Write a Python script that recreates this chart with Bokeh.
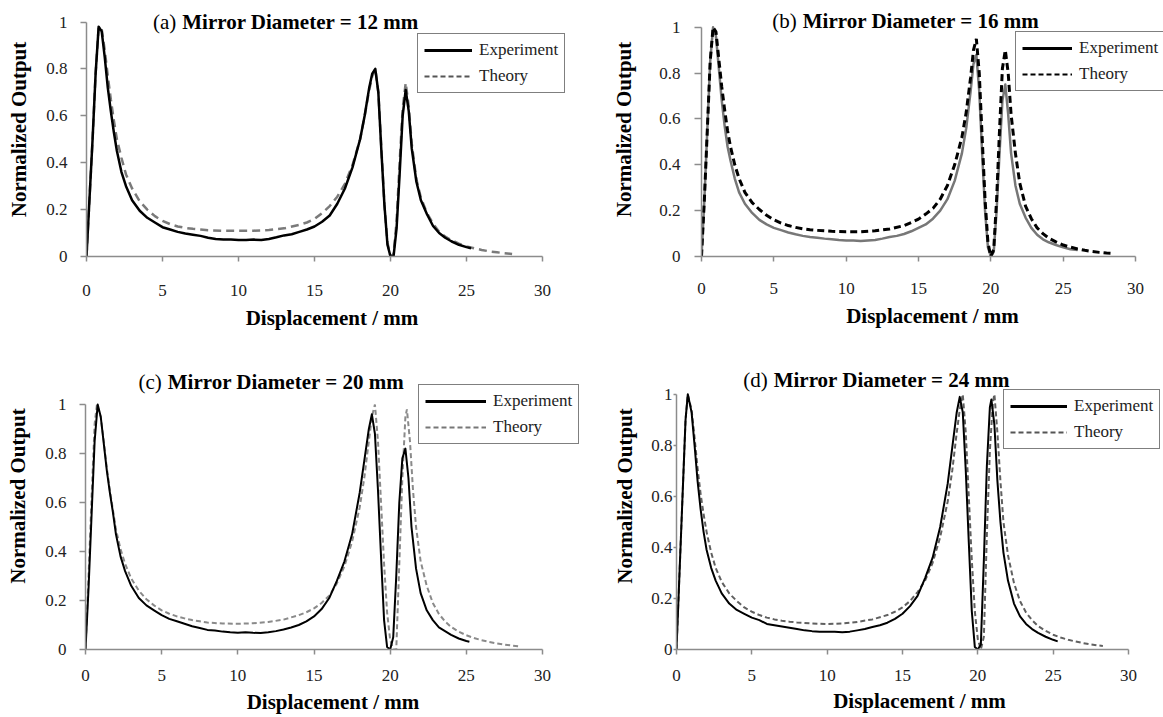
import numpy as np
from bokeh.plotting import figure
from bokeh.layouts import row, column
from bokeh.models import Legend, LegendItem, Label, FixedTicker, Range1d
from bokeh.embed import file_html
from bokeh.resources import INLINE

FONT = "Liberation Serif"

# ---------------- data ----------------
x_ticks = [0, 5, 10, 15, 20, 25, 30]
y_ticks = [0, 0.2, 0.4, 0.6, 0.8, 1]
y_tick_labels = ["0", "0.2", "0.4", "0.6", "0.8", "1"]
x_label = "Displacement / mm"
y_label = "Normalized Output"
series_names = ["Experiment", "Theory"]
panel_tags = ["(a)", "(b)", "(c)", "(d)"]
panel_titles = ["Mirror Diameter = 12 mm", "Mirror Diameter = 16 mm",
                "Mirror Diameter = 20 mm", "Mirror Diameter = 24 mm"]

a_exp_x = [0, 0.2, 0.4, 0.6, 0.8, 1.0, 1.2, 1.4, 1.6, 1.8, 2.0, 2.3, 2.6, 3.0, 3.5, 4.0, 4.5, 5.0, 5.5, 6.0,
           6.5, 7.0, 7.5, 8.0, 8.5, 9.0, 9.5, 10.0, 10.5, 11.0, 11.5, 12.0, 12.5, 13.0, 13.5, 14.0, 14.5, 15.0,
           15.5, 16.0, 16.5, 17.0, 17.5, 18.0, 18.3, 18.6, 18.8, 19.0, 19.2, 19.4, 19.6, 19.8, 20.0, 20.2,
           20.4, 20.6, 20.8, 21.0, 21.2, 21.4, 21.7, 22.0, 22.4, 22.8, 23.2, 23.6, 24.0, 24.5, 25.0, 25.3]
a_exp_y = [0, 0.25, 0.5, 0.78, 0.98, 0.96, 0.85, 0.72, 0.62, 0.53, 0.45, 0.36, 0.30, 0.24, 0.195, 0.165,
           0.145, 0.125, 0.115, 0.105, 0.098, 0.093, 0.088, 0.08, 0.075, 0.073, 0.072, 0.07, 0.07, 0.072, 0.07,
           0.075, 0.082, 0.09, 0.095, 0.105, 0.115, 0.128, 0.148, 0.175, 0.225, 0.29, 0.38, 0.5, 0.6, 0.72,
           0.78, 0.80, 0.70, 0.45, 0.22, 0.05, 0.0, 0.0, 0.12, 0.35, 0.6, 0.71, 0.62, 0.46, 0.32,
           0.24, 0.18, 0.13, 0.10, 0.08, 0.065, 0.05, 0.04, 0.035]
a_th_x = [0, 0.2, 0.4, 0.6, 0.8, 1.0, 1.2, 1.4, 1.6, 1.8, 2.0, 2.3, 2.6, 3.0, 3.5, 4.0, 4.5, 5.0, 5.5, 6.0, 6.5,
          7.0, 7.5, 8.0, 9.0, 10.0, 11.0, 12.0, 13.0, 14.0, 14.5, 15.0, 15.5, 16.0, 16.5, 17.0, 17.5, 18.0,
          18.3, 18.6, 18.8, 19.0, 19.2, 19.4, 19.6, 19.8, 20.0, 20.2, 20.4, 20.6, 20.8, 21.0, 21.2, 21.4,
          21.7, 22.0, 22.4, 22.8, 23.2, 23.6, 24.0, 24.5, 25.0, 25.5, 26.0, 26.5, 27.0, 27.5, 28.0]
a_th_y = [0, 0.25, 0.5, 0.78, 0.98, 0.97, 0.88, 0.77, 0.67, 0.58, 0.50, 0.42, 0.35, 0.29, 0.235, 0.2,
          0.172, 0.152, 0.138, 0.128, 0.122, 0.118, 0.115, 0.112, 0.11, 0.11, 0.11, 0.113, 0.12, 0.135, 0.145,
          0.16, 0.185, 0.215, 0.255, 0.31, 0.39, 0.5, 0.6, 0.71, 0.77, 0.80, 0.70, 0.46, 0.22, 0.06,
          0.0, 0.01, 0.15, 0.4, 0.63, 0.74, 0.64, 0.48, 0.33, 0.25, 0.185, 0.14, 0.105, 0.085, 0.07,
          0.055, 0.043, 0.035, 0.028, 0.022, 0.018, 0.014, 0.011]

b_exp_x = [0, 0.2, 0.4, 0.6, 0.8, 1.0, 1.2, 1.4, 1.6, 1.8, 2.0, 2.3, 2.6, 3.0, 3.5, 4.0, 4.5, 5.0, 5.5, 6.0,
           6.5, 7.0, 7.5, 8.0, 8.5, 9.0, 9.5, 10.0, 10.5, 11.0, 11.5, 12.0, 12.5, 13.0, 13.5, 14.0, 14.5, 15.0,
           15.5, 16.0, 16.5, 17.0, 17.5, 18.0, 18.3, 18.6, 18.8, 19.0, 19.2, 19.4, 19.6, 19.8, 20.0, 20.2,
           20.4, 20.6, 20.8, 21.0, 21.2, 21.4, 21.7, 22.0, 22.4, 22.8, 23.2, 23.6, 24.0, 24.5, 25.0, 25.5, 26.0]
b_exp_y = [0, 0.25, 0.55, 0.85, 1.0, 0.96, 0.82, 0.68, 0.57, 0.48, 0.42, 0.34, 0.28, 0.23, 0.19, 0.16,
           0.14, 0.125, 0.115, 0.105, 0.097, 0.09, 0.085, 0.082, 0.078, 0.075, 0.072, 0.07, 0.07, 0.068, 0.07,
           0.072, 0.078, 0.085, 0.09, 0.098, 0.11, 0.125, 0.14, 0.165, 0.2, 0.25, 0.33, 0.45, 0.56, 0.72,
           0.84, 0.88, 0.72, 0.45, 0.2, 0.04, 0.0, 0.02, 0.2, 0.45, 0.68, 0.75, 0.62, 0.45, 0.31,
           0.23, 0.17, 0.125, 0.095, 0.075, 0.062, 0.05, 0.04, 0.032, 0.028]
b_th_x = [0, 0.2, 0.4, 0.6, 0.8, 1.0, 1.2, 1.4, 1.6, 1.8, 2.0, 2.3, 2.6, 3.0, 3.5, 4.0, 4.5, 5.0, 5.5, 6.0, 6.5,
          7.0, 7.5, 8.0, 9.0, 10.0, 11.0, 12.0, 13.0, 14.0, 14.5, 15.0, 15.5, 16.0, 16.5, 17.0, 17.5, 18.0,
          18.3, 18.6, 18.8, 19.0, 19.2, 19.4, 19.6, 19.8, 20.0, 20.2, 20.4, 20.6, 20.8, 21.0, 21.2, 21.4,
          21.7, 22.0, 22.4, 22.8, 23.2, 23.6, 24.0, 24.5, 25.0, 25.5, 26.0, 26.5, 27.0, 27.5, 28.0, 28.3]
b_th_y = [0, 0.25, 0.55, 0.85, 1.0, 0.98, 0.86, 0.74, 0.64, 0.55, 0.48, 0.40, 0.34, 0.28, 0.235, 0.205,
          0.18, 0.16, 0.146, 0.135, 0.127, 0.121, 0.117, 0.114, 0.11, 0.108, 0.108, 0.112, 0.12, 0.135, 0.148,
          0.163, 0.185, 0.21, 0.25, 0.31, 0.4, 0.52, 0.63, 0.78, 0.9, 0.95, 0.8, 0.52, 0.25, 0.06,
          0.0, 0.03, 0.25, 0.55, 0.82, 0.90, 0.8, 0.62, 0.45, 0.32, 0.22, 0.165, 0.125, 0.1, 0.08,
          0.064, 0.05, 0.041, 0.033, 0.027, 0.022, 0.018, 0.015, 0.014]

c_exp_x = [0, 0.2, 0.4, 0.6, 0.8, 1.0, 1.2, 1.4, 1.6, 1.8, 2.0, 2.3, 2.6, 3.0, 3.5, 4.0, 4.5, 5.0, 5.5, 6.0,
           6.5, 7.0, 7.5, 8.0, 8.5, 9.0, 9.5, 10.0, 10.5, 11.0, 11.5, 12.0, 12.5, 13.0, 13.5, 14.0, 14.5, 15.0,
           15.5, 16.0, 16.5, 17.0, 17.5, 18.0, 18.3, 18.6, 18.8, 19.0, 19.2, 19.4, 19.6, 19.8, 20.0, 20.2,
           20.4, 20.6, 20.8, 21.0, 21.2, 21.4, 21.7, 22.0, 22.4, 22.8, 23.2, 23.6, 24.0, 24.5, 25.0, 25.2]
c_exp_y = [0, 0.25, 0.55, 0.85, 1.0, 0.95, 0.84, 0.73, 0.64, 0.56, 0.47, 0.38, 0.32, 0.26, 0.21, 0.18,
           0.16, 0.14, 0.125, 0.115, 0.105, 0.095, 0.088, 0.08, 0.078, 0.073, 0.07, 0.068, 0.07, 0.068, 0.067,
           0.07, 0.075, 0.082, 0.09, 0.1, 0.115, 0.135, 0.165, 0.21, 0.28, 0.36, 0.47, 0.64, 0.77, 0.9,
           0.96, 0.88, 0.65, 0.38, 0.12, 0.01, 0.0, 0.05, 0.3, 0.6, 0.78, 0.82, 0.7, 0.5, 0.33,
           0.23, 0.16, 0.12, 0.09, 0.075, 0.06, 0.045, 0.035, 0.032]
c_th_x = [0, 0.2, 0.4, 0.6, 0.75, 1.0, 1.2, 1.4, 1.6, 1.8, 2.0, 2.3, 2.6, 3.0, 3.5, 4.0, 4.5, 5.0, 5.5, 6.0,
          6.5, 7.0, 7.5, 8.0, 9.0, 10.0, 11.0, 12.0, 13.0, 14.0, 14.5, 15.0, 15.5, 16.0, 16.5, 17.0, 17.5,
          18.0, 18.3, 18.6, 18.8, 19.0, 19.2, 19.4, 19.6, 19.8, 20.0, 20.2, 20.4, 20.6, 20.8, 21.0, 21.1,
          21.3, 21.5, 21.7, 22.0, 22.4, 22.8, 23.2, 23.6, 24.0, 24.5, 25.0, 25.5, 26.0, 26.5, 27.0, 27.5,
          28.0, 28.5]
c_th_y = [0, 0.3, 0.62, 0.92, 1.0, 0.95, 0.85, 0.74, 0.65, 0.57, 0.49, 0.41, 0.35, 0.29, 0.24, 0.205,
          0.18, 0.16, 0.146, 0.135, 0.127, 0.12, 0.115, 0.11, 0.106, 0.105, 0.107, 0.112, 0.122, 0.14, 0.152,
          0.168, 0.19, 0.22, 0.27, 0.34, 0.44, 0.58, 0.7, 0.85, 0.95, 1.0, 0.85, 0.6, 0.35, 0.15,
          0.04, 0.0, 0.0, 0.35, 0.7, 0.95, 0.98, 0.85, 0.65, 0.5, 0.36, 0.26, 0.19, 0.145, 0.115,
          0.092, 0.073, 0.058, 0.047, 0.038, 0.031, 0.025, 0.02, 0.016, 0.013]

d_exp_x = [0, 0.2, 0.4, 0.6, 0.75, 1.0, 1.2, 1.4, 1.6, 1.8, 2.0, 2.3, 2.6, 3.0, 3.5, 4.0, 4.5, 5.0, 5.5, 6.0,
           6.5, 7.0, 7.5, 8.0, 8.5, 9.0, 9.5, 10.0, 10.5, 11.0, 11.5, 12.0, 12.5, 13.0, 13.5, 14.0, 14.5,
           15.0, 15.5, 16.0, 16.5, 17.0, 17.5, 18.0, 18.3, 18.6, 18.8, 19.0, 19.2, 19.4, 19.6, 19.8, 20.0,
           20.2, 20.4, 20.6, 20.8, 20.9, 21.1, 21.3, 21.5, 21.7, 22.0, 22.4, 22.8, 23.2, 23.6, 24.0, 24.5,
           25.0, 25.3]
d_exp_y = [0, 0.3, 0.6, 0.9, 1.0, 0.93, 0.8, 0.66, 0.55, 0.46, 0.39, 0.32, 0.27, 0.22, 0.18, 0.155,
           0.14, 0.125, 0.115, 0.1, 0.095, 0.09, 0.085, 0.08, 0.075, 0.072, 0.07, 0.07, 0.07, 0.068, 0.07,
           0.075, 0.08, 0.088, 0.095, 0.105, 0.12, 0.14, 0.17, 0.21, 0.28, 0.36, 0.48, 0.65, 0.79, 0.93,
           0.99, 0.93, 0.7, 0.42, 0.15, 0.01, 0.0, 0.02, 0.35, 0.72, 0.95, 0.98, 0.88, 0.66, 0.5,
           0.38, 0.27, 0.18, 0.13, 0.1, 0.08, 0.065, 0.05, 0.038, 0.032]
d_th_x = [0, 0.2, 0.4, 0.6, 0.75, 1.0, 1.2, 1.4, 1.6, 1.8, 2.0, 2.3, 2.6, 3.0, 3.5, 4.0, 4.5, 5.0, 5.5, 6.0,
          6.5, 7.0, 7.5, 8.0, 9.0, 10.0, 11.0, 12.0, 13.0, 14.0, 14.5, 15.0, 15.5, 16.0, 16.5, 17.0, 17.5,
          18.0, 18.3, 18.6, 18.8, 19.0, 19.2, 19.4, 19.6, 19.8, 20.0, 20.2, 20.4, 20.6, 20.8, 21.0, 21.1,
          21.3, 21.5, 21.7, 22.0, 22.4, 22.8, 23.2, 23.6, 24.0, 24.5, 25.0, 25.5, 26.0, 26.5, 27.0, 27.5,
          28.0, 28.3]
d_th_y = [0, 0.3, 0.6, 0.9, 1.0, 0.94, 0.83, 0.71, 0.61, 0.53, 0.46, 0.38, 0.32, 0.265, 0.22, 0.19,
          0.165, 0.148, 0.135, 0.125, 0.118, 0.113, 0.109, 0.106, 0.102, 0.1, 0.102, 0.108, 0.118, 0.135,
          0.148, 0.165, 0.19, 0.225, 0.27, 0.34, 0.44, 0.58, 0.7, 0.85, 0.94, 1.0, 0.85, 0.6, 0.35, 0.15,
          0.04, 0.0, 0.05, 0.45, 0.78, 0.97, 1.0, 0.85, 0.66, 0.5, 0.37, 0.26, 0.19, 0.145, 0.115,
          0.092, 0.073, 0.058, 0.047, 0.038, 0.031, 0.025, 0.02, 0.016, 0.014]

X_MIN, X_MAX = 0, 30
Y_MIN, Y_MAX = 0, 1

# ---------------- styling / geometry (pixels inside each figure) ----------------
# ax_l / ax_r: pixel of x=0 / x=30 ; ax_t / ax_b: pixel of y=1 / y=0 ; fr_r / fr_t: frame right / top
panels = [
    dict(exp=(a_exp_x, a_exp_y), th=(a_th_x, a_th_y), w=581, h=340, ax_l=86, ax_r=542, ax_t=21.5, ax_b=256,
         fr_r=577, fr_t=2,
         ytick_out=6, ystand=13, yals=12, xtick_out=5, xstand=23, xals=7,
         leg=(331, 163), gw=48, split=6.3, ty=1.0,
         exp_col="black", exp_w=2.5, th_col="#7a7a7a", th_w=2.5, th_dash="8 5", th_leg="#555555",
         th_on_top=False),
    dict(exp=(b_exp_x, b_exp_y), th=(b_th_x, b_th_y), w=582, h=340, ax_l=120, ax_r=554, ax_t=27, ax_b=258,
         fr_r=582, fr_t=2,
         ytick_out=7, ystand=14, yals=20, xtick_out=5, xstand=21, xals=7,
         leg=(314, 165), gw=50, split=7.0, ty=1.027,
         exp_col="#777777", exp_w=2.5, th_col="black", th_w=3, th_dash="7 4", th_leg="black",
         th_on_top=True),
    dict(exp=(c_exp_x, c_exp_y), th=(c_th_x, c_th_y), w=581, h=377, ax_l=85, ax_r=542, ax_t=64, ax_b=309,
         fr_r=580, fr_t=2,
         ytick_out=6, ystand=13, yals=12, xtick_out=5, xstand=15, xals=6,
         leg=(333, 205), gw=61, split=5.4, ty=1.09,
         exp_col="black", exp_w=2, th_col="#8a8a8a", th_w=2, th_dash="5 3", th_leg="#777777",
         th_on_top=False),
    dict(exp=(d_exp_x, d_exp_y), th=(d_th_x, d_th_y), w=582, h=377, ax_l=95, ax_r=547, ax_t=54, ax_b=310,
         fr_r=581, fr_t=2,
         ytick_out=3, ystand=1, yals=11, xtick_out=5, xstand=15, xals=5,
         leg=(327, 200), gw=57, split=6.45, ty=1.055,
         exp_col="black", exp_w=2, th_col="#606060", th_w=2, th_dash="5 3", th_leg="#555555",
         th_on_top=False),
]

NO_POINT = np.full(1, np.nan)  # legend proxies: one invisible (NaN) point


def make_panel(i, g):
    # extend the ranges so the frame also holds the title and the legend (no clipping)
    px_per_x = (g["ax_r"] - g["ax_l"]) / (X_MAX - X_MIN)
    px_per_y = (g["ax_b"] - g["ax_t"]) / (Y_MAX - Y_MIN)
    x_end = X_MIN + (g["fr_r"] - g["ax_l"]) / px_per_x
    y_end = Y_MIN + (g["ax_b"] - g["fr_t"]) / px_per_y

    p = figure(width=g["w"], height=g["h"], output_backend="svg", toolbar_location=None,
               x_range=Range1d(X_MIN, x_end), y_range=Range1d(Y_MIN, y_end),
               min_border_left=int(g["ax_l"]), min_border_right=int(g["w"] - g["fr_r"]),
               min_border_top=int(g["fr_t"]), min_border_bottom=int(g["h"] - g["ax_b"]),
               x_axis_label=x_label, y_axis_label=y_label)
    p.outline_line_color = None
    p.grid.visible = False
    p.background_fill_color = "white"
    p.border_fill_color = "white"

    p.xaxis.ticker = FixedTicker(ticks=x_ticks)
    p.yaxis.ticker = FixedTicker(ticks=y_ticks)
    p.yaxis.major_label_overrides = dict(zip(y_ticks, y_tick_labels))
    p.xaxis.bounds = (X_MIN, X_MAX)
    p.yaxis.bounds = (Y_MIN, Y_MAX)
    for ax in (p.xaxis[0], p.yaxis[0]):
        ax.minor_tick_line_color = None
        ax.major_tick_in = 0
        ax.axis_line_color = "#8c8c8c"
        ax.axis_line_width = 1.5
        ax.major_tick_line_color = "#8c8c8c"
        ax.major_tick_line_width = 1.5
        ax.major_label_text_font = FONT
        ax.major_label_text_font_size = "17px"
        ax.major_label_text_color = "#222222"
        ax.axis_label_text_font = FONT
        ax.axis_label_text_font_style = "bold"
        ax.axis_label_text_font_size = "21px"
        ax.axis_label_text_color = "black"
    p.yaxis.major_tick_out = g["ytick_out"]
    p.yaxis.major_label_standoff = g["ystand"]
    p.yaxis.axis_label_standoff = g["yals"]
    p.xaxis.major_tick_out = g["xtick_out"]
    p.xaxis.major_label_standoff = g["xstand"]
    p.xaxis.axis_label_standoff = g["xals"]

    ex, ey = g["exp"]
    tx, ty = g["th"]

    def draw_exp():
        p.line(ex, ey, line_color=g["exp_col"], line_width=g["exp_w"], line_join="round")

    def draw_th():
        p.line(tx, ty, line_color=g["th_col"], line_width=g["th_w"], line_dash=g["th_dash"])

    if g["th_on_top"]:
        draw_exp(); draw_th()
    else:
        draw_th(); draw_exp()

    # legend proxies (a single NaN point, nothing drawn in the plot)
    r_exp = p.line(NO_POINT, NO_POINT, line_color="black", line_width=3)
    r_th = p.line(NO_POINT, NO_POINT, line_color=g["th_leg"], line_width=2, line_dash="5 3")
    legend = Legend(items=[LegendItem(label=series_names[0], renderers=[r_exp]),
                           LegendItem(label=series_names[1], renderers=[r_th])],
                    location=g["leg"], label_text_font=FONT, label_text_font_size="17px",
                    label_text_color="#222222",
                    border_line_color="black", border_line_width=1, background_fill_color="white",
                    background_fill_alpha=1, padding=6, spacing=6, glyph_width=g["gw"], glyph_height=20,
                    label_height=20, label_standoff=7, margin=0)
    p.add_layout(legend)

    p.add_layout(Label(x=g["split"], y=g["ty"], x_offset=-6, text=panel_tags[i], text_font=FONT,
                       text_font_size="21px", text_align="right", text_baseline="middle",
                       text_color="black"))
    p.add_layout(Label(x=g["split"], y=g["ty"], text=panel_titles[i], text_font=FONT,
                       text_font_size="21px", text_font_style="bold", text_align="left",
                       text_baseline="middle", text_color="black"))
    return p


figs = [make_panel(i, g) for i, g in enumerate(panels)]
layout = column(row(figs[0], figs[1], spacing=0), row(figs[2], figs[3], spacing=0), spacing=0)

open("out.html", "w").write(file_html(layout, INLINE))
